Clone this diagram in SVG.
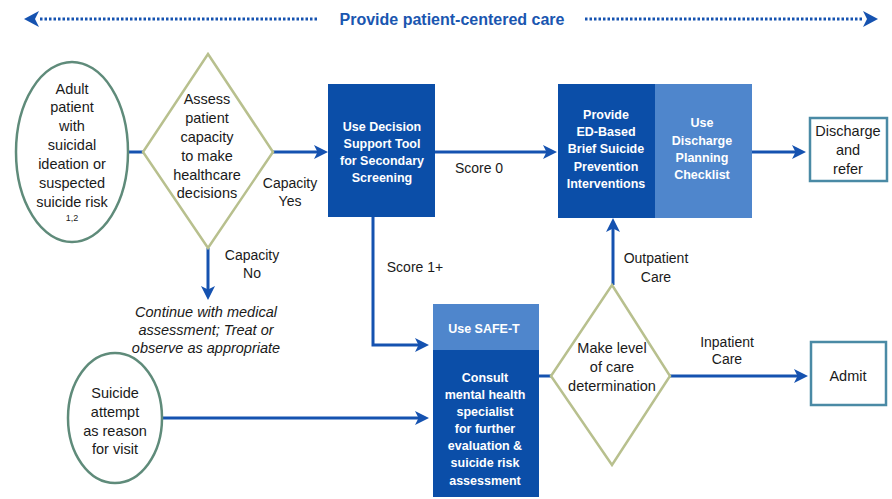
<svg xmlns="http://www.w3.org/2000/svg" width="892" height="499" viewBox="0 0 892 499">
<defs>
<style>
.t{font-family:"Liberation Sans",Arial,sans-serif;font-size:14.5px;fill:#1a1a1a;text-anchor:middle;dominant-baseline:central}
.lbl{font-size:14px}
.it{font-style:italic}
.w{font-family:"Liberation Sans",Arial,sans-serif;font-size:12.5px;font-weight:bold;fill:#fff;text-anchor:middle;dominant-baseline:central}
.ell{fill:#fff;stroke:#5f8b7a;stroke-width:2.5}
.dia{fill:#fff;stroke:#b8c08e;stroke-width:2.5}
.box{fill:#fff;stroke:#4a8aa5;stroke-width:2.5}
.dark{fill:#0b4ea8}
.light{fill:#4f86cc}
.con{fill:none;stroke:#1552b0;stroke-width:3;marker-end:url(#ah)}
</style>
<marker id="ah" markerUnits="userSpaceOnUse" markerWidth="16" markerHeight="14" refX="10" refY="7" orient="auto">
<path d="M0,0 L14,7 L0,14 L3.5,7 z" fill="#1552b0"/>
</marker>
</defs>
<rect width="892" height="499" fill="#fff"/>

<g id="banner">
<line x1="40" y1="19" x2="318" y2="19" stroke="#1552b0" stroke-width="3" stroke-dasharray="2.5 2"/>
<line x1="585" y1="19" x2="862" y2="19" stroke="#1552b0" stroke-width="3" stroke-dasharray="2.5 2"/>
<path d="M24,19 L39,11 L35,19 L39,27 z" fill="#1552b0"/>
<path d="M878,19 L863,11 L867,19 L863,27 z" fill="#1552b0"/>
<text x="452" y="19" style="font-family:'Liberation Sans',Arial,sans-serif;font-size:16px;font-weight:bold;fill:#1a56b0;text-anchor:middle;dominant-baseline:central">Provide patient-centered care</text>
</g>

<g id="connectors">
<line class="con" x1="128" y1="152" x2="143" y2="152" style="marker-end:none"/>
<line class="con" x1="273" y1="152" x2="324" y2="152"/>
<line class="con" x1="435" y1="152" x2="553" y2="152"/>
<line class="con" x1="752" y1="152" x2="802" y2="152"/>
<line class="con" x1="208" y1="248" x2="208" y2="296"/>
<polyline class="con" points="373,217 373,345 425,345"/>
<line class="con" x1="162" y1="418" x2="425" y2="418"/>
<line class="con" x1="539" y1="376" x2="551" y2="376" style="marker-end:none"/>
<line class="con" x1="613" y1="285" x2="613" y2="222"/>
<line class="con" x1="670" y1="376" x2="804" y2="376"/>
<text class="t lbl" x="290" y="183">Capacity</text>
<text class="t lbl" x="290" y="201">Yes</text>
<text class="t lbl" x="479" y="168">Score 0</text>
<text class="t lbl" x="252" y="255">Capacity</text>
<text class="t lbl" x="252" y="273">No</text>
<text class="t lbl" x="415" y="267">Score 1+</text>
<text class="t lbl" x="656" y="258">Outpatient</text>
<text class="t lbl" x="656" y="277">Care</text>
<text class="t lbl" x="727" y="342">Inpatient</text>
<text class="t lbl" x="727" y="359">Care</text>
</g>

<g id="start-ideation">
<ellipse class="ell" cx="72" cy="152" rx="56" ry="90"/>
<text class="t" x="72" y="89">Adult</text>
<text class="t" x="72" y="107">patient</text>
<text class="t" x="72" y="126">with</text>
<text class="t" x="72" y="145">suicidal</text>
<text class="t" x="72" y="164">ideation or</text>
<text class="t" x="72" y="183">suspected</text>
<text class="t" x="72" y="202">suicide risk</text>
<text class="t" x="72" y="218" style="font-size:9px">1,2</text>
</g>

<g id="assess-capacity">
<polygon class="dia" points="208,54 273,152 208,248 143,152"/>
<text class="t" x="207" y="99">Assess</text>
<text class="t" x="207" y="118">patient</text>
<text class="t" x="207" y="137">capacity</text>
<text class="t" x="207" y="156">to make</text>
<text class="t" x="207" y="175">healthcare</text>
<text class="t" x="207" y="193">decisions</text>
</g>

<g id="continue-medical">
<text class="t it" x="206" y="312">Continue with medical</text>
<text class="t it" x="206" y="330">assessment; Treat or</text>
<text class="t it" x="206" y="348">observe as appropriate</text>
</g>

<g id="decision-support">
<rect class="dark" x="328" y="84" width="107" height="133"/>
<text class="w" x="382" y="127">Use Decision</text>
<text class="w" x="382" y="144">Support Tool</text>
<text class="w" x="382" y="161">for Secondary</text>
<text class="w" x="382" y="178">Screening</text>
</g>

<g id="brief-intervention">
<rect class="dark" x="558" y="84" width="97" height="134"/>
<rect class="light" x="655" y="84" width="97" height="134"/>
<text class="w" x="606" y="115">Provide</text>
<text class="w" x="606" y="132">ED-Based</text>
<text class="w" x="606" y="149">Brief Suicide</text>
<text class="w" x="606" y="167">Prevention</text>
<text class="w" x="606" y="184">Interventions</text>
<text class="w" x="702" y="123">Use</text>
<text class="w" x="702" y="141">Discharge</text>
<text class="w" x="702" y="158">Planning</text>
<text class="w" x="702" y="175">Checklist</text>
</g>

<g id="discharge">
<rect class="box" x="810" y="118" width="77" height="63"/>
<text class="t" x="848" y="131">Discharge</text>
<text class="t" x="848" y="150">and</text>
<text class="t" x="848" y="169">refer</text>
</g>

<g id="start-attempt">
<ellipse class="ell" cx="115" cy="418" rx="47" ry="65"/>
<text class="t" x="115" y="393">Suicide</text>
<text class="t" x="115" y="412">attempt</text>
<text class="t" x="115" y="431">as reason</text>
<text class="t" x="115" y="449">for visit</text>
</g>

<g id="consult-specialist">
<rect class="light" x="433" y="304" width="106" height="46"/>
<rect class="dark" x="433" y="350" width="106" height="147"/>
<text class="w" x="484" y="329">Use SAFE-T</text>
<text class="w" x="485" y="378">Consult</text>
<text class="w" x="485" y="395">mental health</text>
<text class="w" x="485" y="412">specialist</text>
<text class="w" x="485" y="429">for further</text>
<text class="w" x="485" y="446">evaluation &amp;</text>
<text class="w" x="485" y="463">suicide risk</text>
<text class="w" x="485" y="481">assessment</text>
</g>

<g id="level-of-care">
<polygon class="dia" points="612,285 670,376 612,465 551,376"/>
<text class="t" x="612" y="348">Make level</text>
<text class="t" x="612" y="367">of care</text>
<text class="t" x="612" y="386">determination</text>
</g>

<g id="admit">
<rect class="box" x="811" y="342" width="75" height="63"/>
<text class="t" x="848" y="376">Admit</text>
</g>
</svg>
